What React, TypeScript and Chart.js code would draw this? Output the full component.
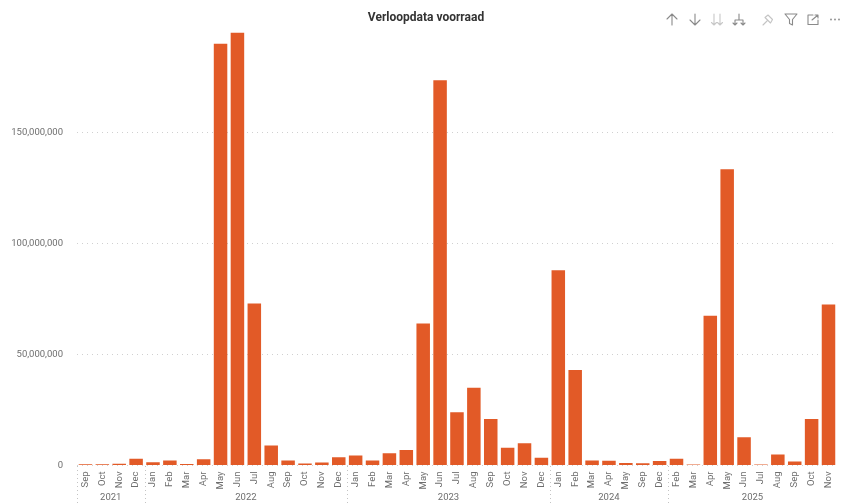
import React, { useEffect, useRef } from "react";
import { Chart, registerables } from "chart.js";

Chart.register(...registerables);

const months = [
  "Sep", "Oct", "Nov", "Dec",
  "Jan", "Feb", "Mar", "Apr", "May", "Jun", "Jul", "Aug", "Sep", "Oct", "Nov", "Dec",
  "Jan", "Feb", "Mar", "Apr", "May", "Jun", "Jul", "Aug", "Sep", "Oct", "Nov", "Dec",
  "Jan", "Feb", "Mar", "Apr", "May", "Sep", "Dec",
  "Feb", "Mar", "Apr", "May", "Jun", "Jul", "Aug", "Sep", "Oct", "Nov",
];
const values = [
  600000, 600000, 800000, 3000000,
  1500000, 2300000, 700000, 2800000, 190000000, 195000000, 73000000, 9000000, 2200000, 900000, 1300000, 3700000,
  4500000, 2200000, 5500000, 7000000, 64000000, 173500000, 24000000, 35000000, 21000000, 8000000, 10000000, 3500000,
  88000000, 43000000, 2200000, 2100000, 1100000, 1000000, 2000000,
  3000000, 500000, 67500000, 133500000, 12700000, 500000, 5000000, 1800000, 21000000, 72500000,
];
const years = ["2021", "2022", "2023", "2024", "2025"];
const yearCounts = [4, 12, 12, 7, 10];
const title = "Verloopdata voorraad";

const TEXT = "#6e6e6e";
const FONT = "Roboto, 'Noto Sans', sans-serif";

const titleShiftPlugin = {
  id: "titleShift",
  afterLayout(chart: any) {
    if (chart.titleBlock) {
      chart.titleBlock.right += 15;
    }
  },
};

const yearAxisPlugin = {
  id: "yearAxis",
  afterDraw(chart: any) {
    const { ctx, scales } = chart;
    const x = scales.x;
    const step = x.getPixelForValue(1) - x.getPixelForValue(0);
    let start = 0;
    ctx.save();
    ctx.font = `9.5px ${FONT}`;
    ctx.fillStyle = TEXT;
    ctx.textAlign = "center";
    ctx.textBaseline = "middle";
    const sep = (px: number) => {
      ctx.save();
      ctx.strokeStyle = "#c4c4c4";
      ctx.setLineDash([1, 3]);
      ctx.beginPath();
      ctx.moveTo(px, 466);
      ctx.lineTo(px, 504);
      ctx.stroke();
      ctx.restore();
    };
    years.forEach((year, i) => {
      const n = yearCounts[i];
      const left = x.getPixelForValue(start) - step / 2;
      const right = x.getPixelForValue(start + n - 1) + step / 2;
      sep(Math.round(left) + 0.5);
      ctx.fillText(year, (left + right) / 2, 498);
      start += n;
    });
    ctx.restore();
  },
};

const iconStroke = { fill: "none", strokeWidth: 1.1, strokeLinecap: "round" as const, strokeLinejoin: "round" as const };

function Toolbar() {
  return (
    <svg width={846} height={40} style={{ position: "absolute", left: 0, top: 0, pointerEvents: "none" }}>
      <g {...iconStroke} stroke="#8a8a8a">
        <path d="M672 25V14M667 19l5-5 5 5" />
        <path d="M695 14v11M690 20l5 5 5-5" />
      </g>
      <g {...iconStroke} stroke="#c8c8c8">
        <path d="M714 14v11M711.500 22.500l2.500 2.500 2.500-2.500M720 14v11M717.500 22.500l2.500 2.500 2.500-2.500" />
      </g>
      <g {...iconStroke} stroke="#8a8a8a">
        <path d="M739 14v6M735 25v-5h8v5M733 23l2 2 2-2M741 23l2 2 2-2" />
      </g>
      <g {...iconStroke} stroke="#c4c4c4">
        <path d="M763 25l4-4M765 17.500l5.500 5.500M768 15l4.500 4.500M768 15l-3 2.500M772.500 19.500l-2 3.500" />
      </g>
      <g {...iconStroke} stroke="#8a8a8a">
        <path d="M785 14h12l-4.500 5.500V25l-3-1.500v-4z" />
        <path d="M813 15h-5v9.500h10v-4.500M812 20l6-5M815 15h3v3" />
      </g>
      <g fill="#8a8a8a">
        <circle cx={831} cy={19.500} r={0.9} />
        <circle cx={835} cy={19.500} r={0.9} />
        <circle cx={839} cy={19.500} r={0.9} />
      </g>
    </svg>
  );
}

export default function App() {
  const ref = useRef<HTMLCanvasElement>(null);

  useEffect(() => {
    const chart = new Chart(ref.current as HTMLCanvasElement, {
      type: "bar",
      data: {
        labels: months,
        datasets: [
          {
            data: values,
            backgroundColor: "#E25A27",
            barPercentage: 0.8,
            categoryPercentage: 1,
          },
        ],
      },
      plugins: [titleShiftPlugin, yearAxisPlugin],
      options: {
        responsive: false,
        animation: false,
        layout: { padding: { left: 0, right: 9, top: 0, bottom: 0 } },
        plugins: {
          legend: { display: false },
          tooltip: { enabled: false },
          title: {
            display: true,
            text: title,
            color: "#333333",
            font: { family: FONT, size: 12, weight: "bold" },
            padding: { top: 11, bottom: 2.8 },
          },
        },
        scales: {
          x: {
            afterFit(s: any) {
              s.height = 38.5;
            },
            grid: { display: false, drawTicks: false },
            border: { display: false },
            ticks: {
              autoSkip: false,
              minRotation: 90,
              maxRotation: 90,
              color: TEXT,
              font: { family: FONT, size: 9.5 },
              padding: 6,
            },
          },
          y: {
            min: 0,
            max: 197000000,
            afterFit(s: any) {
              s.width = 77;
            },
            afterBuildTicks(s: any) {
              s.ticks = [0, 50000000, 100000000, 150000000].map((value) => ({ value }));
            },
            grid: {
              color: "#d0d0d0",
              lineWidth: 1,
              drawTicks: false,
            },
            border: { display: false, dash: [1, 4] },
            ticks: {
              color: TEXT,
              font: { family: FONT, size: 9.5 },
              padding: 14,
              callback: (v: any) => Number(v).toLocaleString("en-US"),
            },
          },
        },
      },
    } as any);
    return () => chart.destroy();
  }, []);

  return (
    <div style={{ position: "fixed", left: 0, top: 0, width: 846, height: 504, background: "#fff", filter: "blur(0.55px)" }}>
      <canvas ref={ref} width={846} height={504} style={{ display: "block" }} />
      <Toolbar />
    </div>
  );
}
